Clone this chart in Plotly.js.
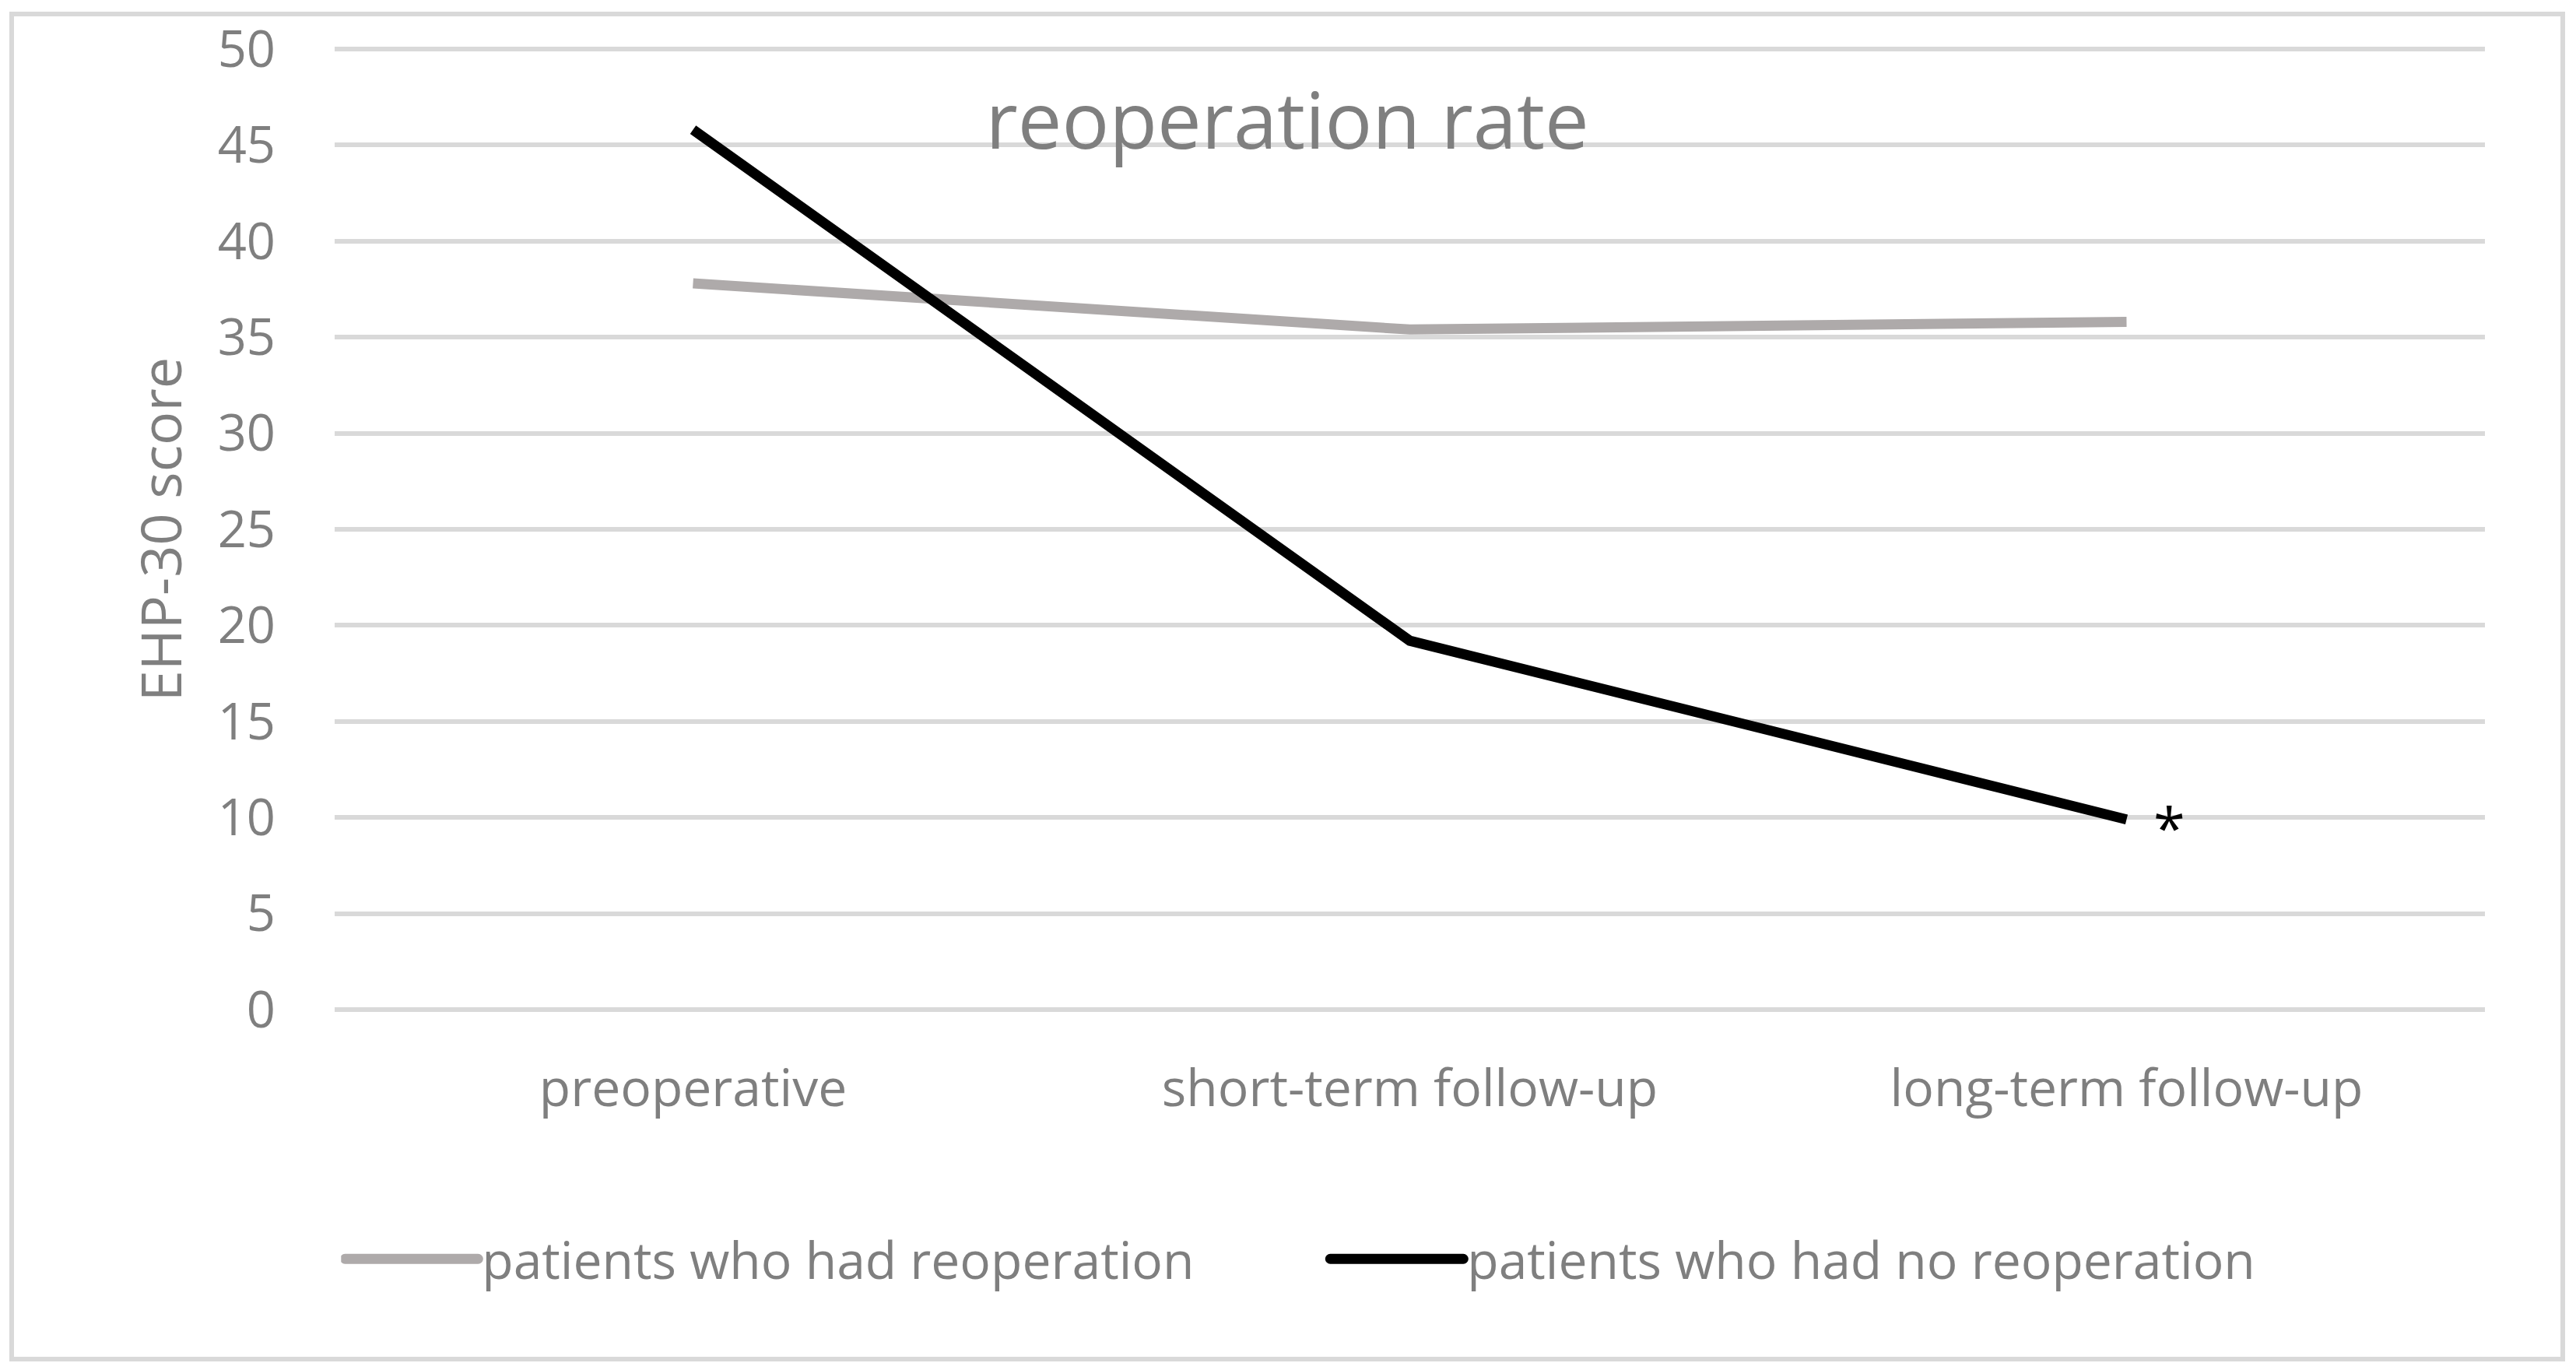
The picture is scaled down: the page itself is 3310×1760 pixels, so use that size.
<!DOCTYPE html>
<html><head><meta charset="utf-8">
<script src="https://cdn.plot.ly/plotly-3.0.1.min.js"></script>
<style>
html,body{margin:0;padding:0;background:#fff;width:3310px;height:1760px;overflow:hidden;}
#chart{position:absolute;left:0;top:0;width:3310px;height:1760px;}
#frame{position:absolute;left:12px;top:15px;width:3272px;height:1722px;border:6px solid #d9d9d9;pointer-events:none;background:transparent;}
</style></head><body>
<div id="chart"></div>
<div id="frame"></div>
<script>
const categories = ["preoperative", "short-term follow-up", "long-term follow-up"];
const reoperation = [37.8, 35.4, 35.8];
const noReoperation = [45.8, 19.2, 9.9];
const seriesNames = ["patients who had reoperation", "patients who had no reoperation"];
const yTickValues = [0, 5, 10, 15, 20, 25, 30, 35, 40, 45, 50];
const chartTitle = "reoperation rate";
const yTitle = "EHP-30 score";
const significanceMark = "*";

const textGray = "#7f7f7f";
const font = "Open Sans, Noto Sans, sans-serif";
const lineWidth = 13;

const traces = [
  {x: categories, y: reoperation, name: seriesNames[0], type: "scatter", mode: "lines",
   line: {color: "#aeaaaa", width: lineWidth}},
  {x: categories, y: noReoperation, name: seriesNames[1], type: "scatter", mode: "lines",
   line: {color: "#000000", width: lineWidth}}
];

const layout = {
  width: 3310, height: 1760,
  paper_bgcolor: "#ffffff", plot_bgcolor: "#ffffff",
  margin: {l: 430, r: 117, t: 58, b: 458, pad: 0},
  font: {family: font, color: textGray, size: 65},
  title: {text: chartTitle, font: {family: font, size: 101, color: textGray},
          x: 0.4997, xref: "container", xanchor: "center",
          y: 0.9114, yref: "container", yanchor: "middle"},
  showlegend: true,
  legend: {orientation: "h", x: 0.003, xanchor: "left", y: -0.2535, yanchor: "middle",
           font: {family: font, size: 66, color: textGray}, itemwidth: 171,
           entrywidth: 1080, entrywidthmode: "pixels",
           bgcolor: "rgba(0,0,0,0)", traceorder: "normal"},
  xaxis: {type: "category", range: [-0.5, 2.5], showgrid: false, zeroline: false, showline: false,
          ticks: "outside", ticklen: 39, tickcolor: "rgba(0,0,0,0)",
          tickfont: {family: font, size: 66, color: textGray}, automargin: false, fixedrange: true},
  yaxis: {range: [-0.2, 50.2], tickvals: yTickValues, ticktext: yTickValues.map(String),
          showgrid: true, gridcolor: "#d9d9d9", gridwidth: 6, zeroline: false, showline: false,
          ticks: "outside", ticklen: 62, tickcolor: "rgba(0,0,0,0)",
          tickfont: {family: font, size: 65, color: textGray},
          title: {text: yTitle, font: {family: font, size: 72, color: textGray}, standoff: 22},
          automargin: false, fixedrange: true},
  annotations: [
    {x: categories[2], y: noReoperation[2], xref: "x", yref: "y", text: significanceMark,
     showarrow: false, xshift: 55, yshift: -10, xanchor: "center", yanchor: "middle",
     font: {family: font, size: 74, color: "#000000"}}
  ]
};

Plotly.newPlot("chart", traces, layout, {staticPlot: true, displayModeBar: false}).then(function (gd) {
  gd.querySelectorAll(".legendlines path").forEach(function (p) {
    p.style.strokeWidth = lineWidth + "px";
    p.style.strokeLinecap = "round";
  });
});
</script>
</body></html>
